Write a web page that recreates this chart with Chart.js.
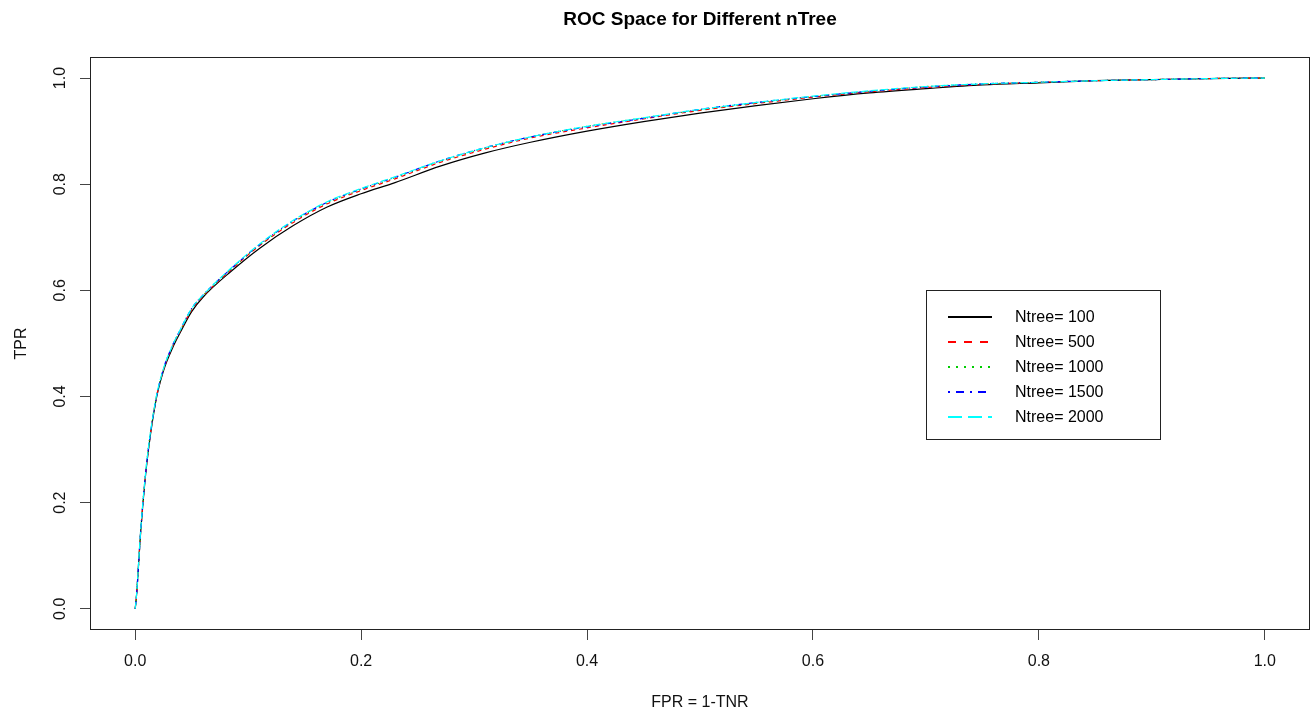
<!DOCTYPE html>
<html>
<head>
<meta charset="utf-8">
<title>ROC Space for Different nTree</title>
<script src="https://cdn.jsdelivr.net/npm/chart.js@4.4.1/dist/chart.umd.min.js"></script>
<style>
  html, body { margin: 0; padding: 0; background: #fff; }
  #wrap { width: 1313px; height: 713px; }
</style>
</head>
<body>
<div id="wrap"><canvas id="rocChart"></canvas></div>
<script>
// false positive rate (shared by all curves)
const fpr = [0, 0.001, 0.005, 0.01, 0.018, 0.025, 0.033, 0.04, 0.05, 0.06, 0.085, 0.11, 0.14, 0.17, 0.2, 0.23,
  0.27, 0.31, 0.35, 0.4, 0.45, 0.5, 0.55, 0.6, 0.65, 0.7, 0.75, 0.8, 0.85, 0.9, 0.95, 1.0];

// true positive rate per nTree setting
const tpr100 = [0, 0.02, 0.148, 0.268, 0.388, 0.448, 0.491, 0.521, 0.56, 0.587, 0.636, 0.679, 0.722, 0.757, 0.782, 0.803,
  0.834, 0.859, 0.879, 0.9, 0.918, 0.934, 0.948, 0.961, 0.972, 0.98, 0.987, 0.991, 0.995, 0.997, 0.999, 1.0];
const tpr500 = [0, 0.02, 0.15, 0.27, 0.39, 0.45, 0.494, 0.524, 0.563, 0.589, 0.639, 0.684, 0.728, 0.763, 0.788, 0.81,
  0.841, 0.866, 0.887, 0.906, 0.923, 0.939, 0.952, 0.964, 0.974, 0.982, 0.988, 0.992, 0.995, 0.997, 0.999, 1.0];
const tpr1000 = [0, 0.021, 0.151, 0.271, 0.391, 0.451, 0.495, 0.525, 0.565, 0.59, 0.64, 0.685, 0.73, 0.765, 0.79, 0.812,
  0.843, 0.868, 0.889, 0.909, 0.925, 0.94, 0.953, 0.965, 0.975, 0.984, 0.989, 0.992, 0.995, 0.997, 0.999, 1.0];
const tpr1500 = [0, 0.02, 0.15, 0.27, 0.39, 0.452, 0.496, 0.526, 0.566, 0.591, 0.641, 0.686, 0.731, 0.766, 0.791, 0.813,
  0.844, 0.869, 0.889, 0.908, 0.924, 0.941, 0.954, 0.965, 0.975, 0.983, 0.989, 0.992, 0.995, 0.997, 0.999, 1.0];
const tpr2000 = [0, 0.021, 0.152, 0.272, 0.392, 0.452, 0.496, 0.526, 0.566, 0.591, 0.642, 0.687, 0.732, 0.767, 0.792, 0.814,
  0.844, 0.869, 0.889, 0.909, 0.925, 0.941, 0.954, 0.966, 0.976, 0.984, 0.989, 0.992, 0.995, 0.997, 0.999, 1.0];

const seriesLabels = ['Ntree= 100', 'Ntree= 500', 'Ntree= 1000', 'Ntree= 1500', 'Ntree= 2000'];
const seriesValues = [tpr100, tpr500, tpr1000, tpr1500, tpr2000];
const seriesColors = ['#000000', '#ff0000', '#00cd00', '#0000ff', '#00ffff'];
const tickValues = [0, 0.2, 0.4, 0.6, 0.8, 1.0];

// R-like line types (at lwd 1)
const plotDashes = [[], [4, 4], [1, 3], [1, 3, 4, 3], [7, 3]];
const legendDashes = [[], [8, 8], [2, 6], [2, 6, 8, 6], [14, 6]];

const FONT = 'Arial, "Liberation Sans", Helvetica, sans-serif';

function toPoints(values) {
  return fpr.map((x, i) => ({ x: x, y: values[i] }));
}

const datasets = seriesValues.map((values, i) => ({
  label: seriesLabels[i],
  data: toPoints(values),
  borderColor: seriesColors[i],
  borderWidth: 1.2,
  borderDash: plotDashes[i],
  pointRadius: 0,
  showLine: true,
  fill: false,
  cubicInterpolationMode: 'monotone',
  order: seriesValues.length - i
}));

// box around the plot region and the boxed legend (R style)
const frameAndLegend = {
  id: 'frameAndLegend',
  afterDatasetsDraw(chart) {
    const { ctx, chartArea, scales } = chart;
    ctx.save();
    ctx.setLineDash([]);
    ctx.strokeStyle = '#222';
    ctx.lineWidth = 1;
    ctx.strokeRect(Math.round(chartArea.left) + 0.5, Math.round(chartArea.top) + 0.5,
      Math.round(chartArea.right - chartArea.left) - 1, Math.round(chartArea.bottom - chartArea.top) - 1);

    const left = Math.round(scales.x.getPixelForValue(0.7));
    const top = Math.round(scales.y.getPixelForValue(0.6));
    const width = 234;
    const height = 149;
    ctx.fillStyle = '#fff';
    ctx.fillRect(left, top, width, height);
    ctx.strokeRect(left + 0.5, top + 0.5, width, height);

    ctx.font = '16px ' + FONT;
    ctx.textBaseline = 'middle';
    ctx.textAlign = 'left';
    chart.data.datasets.forEach((ds, i) => {
      const y = top + 27 + i * 25;
      ctx.beginPath();
      ctx.setLineDash(legendDashes[i]);
      ctx.strokeStyle = ds.borderColor;
      ctx.lineWidth = 2;
      ctx.moveTo(left + 22, y);
      ctx.lineTo(left + 66, y);
      ctx.stroke();
      ctx.setLineDash([]);
      ctx.fillStyle = '#000';
      ctx.fillText(ds.label, left + 89, y + 1);
    });
    ctx.restore();
  }
};

function fixedTicks(scale) {
  scale.ticks = tickValues.map(v => ({ value: v }));
}

new Chart(document.getElementById('rocChart'), {
  type: 'scatter',
  data: { datasets },
  options: {
    responsive: true,
    maintainAspectRatio: false,
    animation: false,
    layout: { padding: { left: 0, right: 3, top: 0, bottom: 0 } },
    plugins: {
      legend: { display: false },
      tooltip: { enabled: false },
      title: {
        display: true,
        text: 'ROC Space for Different nTree',
        fullSize: false,
        color: '#000',
        font: { family: FONT, size: 19, weight: 'bold', lineHeight: 1.2 },
        padding: { top: 8, bottom: 26 }
      }
    },
    scales: {
      x: {
        type: 'linear',
        min: -0.04,
        max: 1.04,
        afterBuildTicks: fixedTicks,
        afterFit(scale) { scale.height = 83; },
        grid: { drawOnChartArea: false, drawTicks: true, tickLength: 10, tickColor: '#444' },
        border: { display: false },
        ticks: {
          color: '#111',
          padding: 12,
          maxRotation: 0,
          font: { family: FONT, size: 16 },
          callback: v => Number(v).toFixed(1)
        },
        title: {
          display: true,
          text: 'FPR = 1-TNR',
          color: '#111',
          font: { family: FONT, size: 16 },
          padding: { top: 0, bottom: 1 }
        }
      },
      y: {
        type: 'linear',
        min: -0.04,
        max: 1.04,
        afterBuildTicks: fixedTicks,
        afterFit(scale) { scale.width = 90; },
        grid: { drawOnChartArea: false, drawTicks: true, tickLength: 10, tickColor: '#444' },
        border: { display: false },
        ticks: {
          color: '#111',
          padding: 8,
          minRotation: 90,
          maxRotation: 90,
          crossAlign: 'center',
          font: { family: FONT, size: 16 },
          callback: v => Number(v).toFixed(1)
        },
        title: {
          display: true,
          text: 'TPR',
          color: '#111',
          font: { family: FONT, size: 16 },
          padding: { top: 12, bottom: 0 }
        }
      }
    }
  },
  plugins: [frameAndLegend]
});
</script>
</body>
</html>
